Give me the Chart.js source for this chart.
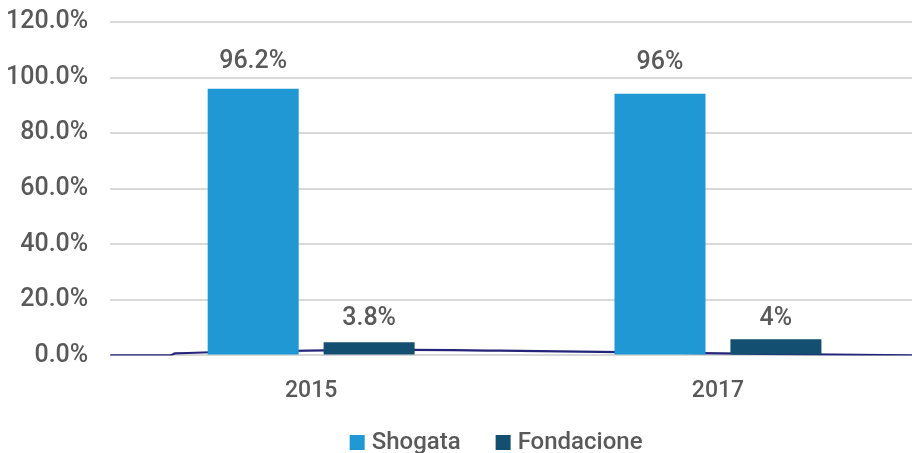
<!DOCTYPE html>
<html>
<head>
<meta charset="utf-8">
<script src="https://cdn.jsdelivr.net/npm/chart.js@4"></script>
<style>
    html, body { margin: 0; padding: 0; background: #ffffff; overflow: hidden; }
    /* se sube el lienzo 15px para que la linea de 120% quede tan arriba como en la imagen */
    #wrap { width: 912px; height: 468px; margin-top: -15px; }
</style>
</head>
<body>
<div id="wrap"><canvas id="grafico"></canvas></div>
<script>
const anios = ["2015", "2017"];
// altura dibujada de las barras (lo que se ve en la imagen)
const shogata = [96.0, 94.2];
const fondacione = [4.7, 5.8];
// texto de las etiquetas sobre las barras
const etiquetasShogata = [96.2, 96];
const etiquetasFondacione = [3.8, 4];
// trazo azul oscuro cerca del cero (x en unidades de categoria: 0 = 2015, 1 = 2017)
const curvaX = [-0.494, -0.346, -0.334, -0.15, 0.219, 0.464, 0.956, 1.477];
const curvaY = [0, 0, 0.7, 1.4, 2.0, 1.7, 0.8, 0];

const gris = "#595959";
const fuente = "Roboto";

const etiquetasPlugin = {
    id: "etiquetas",
    afterDatasetsDraw(chart) {
        const ctx = chart.ctx;
        const y = chart.scales.y;
        const listas = [etiquetasShogata, etiquetasFondacione];
        ctx.save();
        ctx.fillStyle = gris;
        ctx.font = `500 25px ${fuente}`;
        ctx.textAlign = "center";
        ctx.textBaseline = "middle";
        listas.forEach((lista, i) => {
            const meta = chart.getDatasetMeta(i);
            meta.data.forEach((bar, j) => {
                const v = lista[j];
                ctx.fillText(`${v}%`, bar.x, y.getPixelForValue(v) - 26);
            });
        });
        ctx.restore();
    }
};

// leyenda dibujada a mano para poder fijar la separacion entre elementos
const leyendaPlugin = {
    id: "leyenda",
    afterDraw(chart) {
        const ctx = chart.ctx;
        const area = chart.chartArea;
        const items = chart.data.datasets.filter((d) => d.type !== "line");
        ctx.save();
        ctx.font = `500 24px ${fuente}`;
        ctx.textBaseline = "middle";
        const caja = 15, sep = 7, hueco = 35;
        const anchos = items.map((d) => caja + sep + ctx.measureText(d.label).width);
        const total = anchos.reduce((a, b) => a + b, 0) + hueco * (items.length - 1);
        let x = (area.left + area.right) / 2 - 15 - total / 2;
        const yc = chart.height - 11;
        items.forEach((d, i) => {
            ctx.fillStyle = d.backgroundColor;
            ctx.fillRect(x, yc - 7, caja, caja);
            ctx.fillStyle = gris;
            ctx.fillText(d.label, x + caja + sep, yc + 1);
            x += anchos[i] + hueco;
        });
        ctx.restore();
    }
};

new Chart(document.querySelector("#grafico"), {
    data: {
        datasets: [
            {
                type: "bar",
                label: "Shogata",
                data: shogata.map((v, i) => ({ x: i, y: v })),
                backgroundColor: "#1f98d4",
                categoryPercentage: 0.57,
                barPercentage: 0.785
            },
            {
                type: "bar",
                label: "Fondacione",
                data: fondacione.map((v, i) => ({ x: i, y: v })),
                backgroundColor: "#134f71",
                categoryPercentage: 0.57,
                barPercentage: 0.785
            },
            {
                type: "line",
                label: "curva",
                data: curvaX.map((x, i) => ({ x, y: curvaY[i] })),
                borderColor: "#24247a",
                borderWidth: 2.2,
                pointRadius: 0,
                tension: 0.4,
                fill: false
            }
        ]
    },
    options: {
        responsive: true,
        maintainAspectRatio: false,
        animation: false,
        layout: { padding: { top: -15, right: 0, left: -16, bottom: 34 } },
        plugins: {
            tooltip: { enabled: false },
            legend: { display: false }
        },
        scales: {
            x: {
                type: "linear",
                min: -0.494,
                max: 1.477,
                offset: false,
                grid: { display: false },
                border: { display: false },
                afterBuildTicks: (axis) => {
                    axis.ticks = anios.map((_, i) => ({ value: i }));
                },
                ticks: {
                    color: gris,
                    font: { family: fuente, size: 23, weight: "500" },
                    padding: 14,
                    callback: (v) => anios[v]
                }
            },
            y: {
                min: 0,
                max: 120,
                grid: { color: "#d9d9d9", lineWidth: 2, drawTicks: false },
                border: { display: false },
                ticks: {
                    stepSize: 20,
                    color: gris,
                    padding: 22,
                    font: { family: fuente, size: 25, weight: "500" },
                    callback: (v) => v.toFixed(1) + "%"
                }
            }
        }
    },
    plugins: [etiquetasPlugin, leyendaPlugin]
});
</script>
</body>
</html>
